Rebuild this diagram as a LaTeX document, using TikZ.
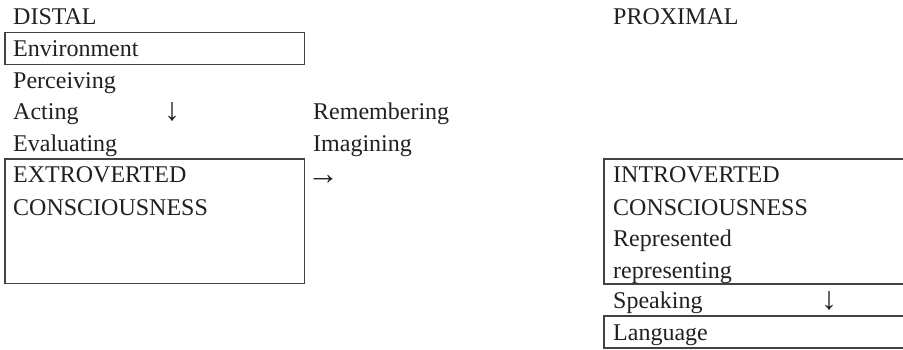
\documentclass[tikz,border=0pt]{standalone}
\usepackage{fontspec}
\setmainfont{Liberation Serif}
\definecolor{ink}{HTML}{231F20}
\begin{document}
\begin{tikzpicture}[x=1pt,y=-1pt,
  lbl/.style={anchor=base west, inner sep=0pt, text=ink, font=\fontsize{24}{28}\selectfont},
  arr/.style={anchor=base west, inner sep=0pt, text=ink, font=\fontsize{32}{36}\selectfont},
  frame/.style={draw=ink!85, line width=1.1pt}]
\useasboundingbox (0,0) rectangle (903,350);
% boxes
\draw[frame] (5,32.5) rectangle (304.5,64.5);
\draw[frame] (5,159) rectangle (304.5,283.5);
\draw[frame] (904,159) -- (604,159) -- (604,284) -- (904,284);
\draw[frame] (904,316) -- (604,316) -- (604,348) -- (904,348);
% left column
\node[lbl] (distal) at (13,25) {DISTAL};
\node[lbl] (env) at (13,57) {Environment};
\node[lbl] (perc) at (13,88.5) {Perceiving};
\node[lbl] (act) at (13,120) {Acting};
\node[arr] (darrow1) at (164,121) {↓};
\node[lbl] (eval) at (13,151.5) {Evaluating};
\node[lbl] (extro) at (13,183) {EXTROVERTED};
\node[lbl] (cons1) at (13,215) {CONSCIOUSNESS};
% middle column
\node[lbl] (remem) at (313,120) {Remembering};
\node[lbl] (imag) at (313,151.5) {Imagining};
\node[arr] (rarrow) at (307,185) {→};
% right column
\node[lbl] (prox) at (613,25) {PROXIMAL};
\node[lbl] (intro) at (613,183) {INTROVERTED};
\node[lbl] (cons2) at (613,215) {CONSCIOUSNESS};
\node[lbl] (repd) at (613,246.5) {Represented};
\node[lbl] (repg) at (613,278) {representing};
\node[lbl] (speak) at (613,308) {Speaking};
\node[arr] (darrow2) at (821,309) {↓};
\node[lbl] (lang) at (613,340) {Language};
\end{tikzpicture}
\end{document}
